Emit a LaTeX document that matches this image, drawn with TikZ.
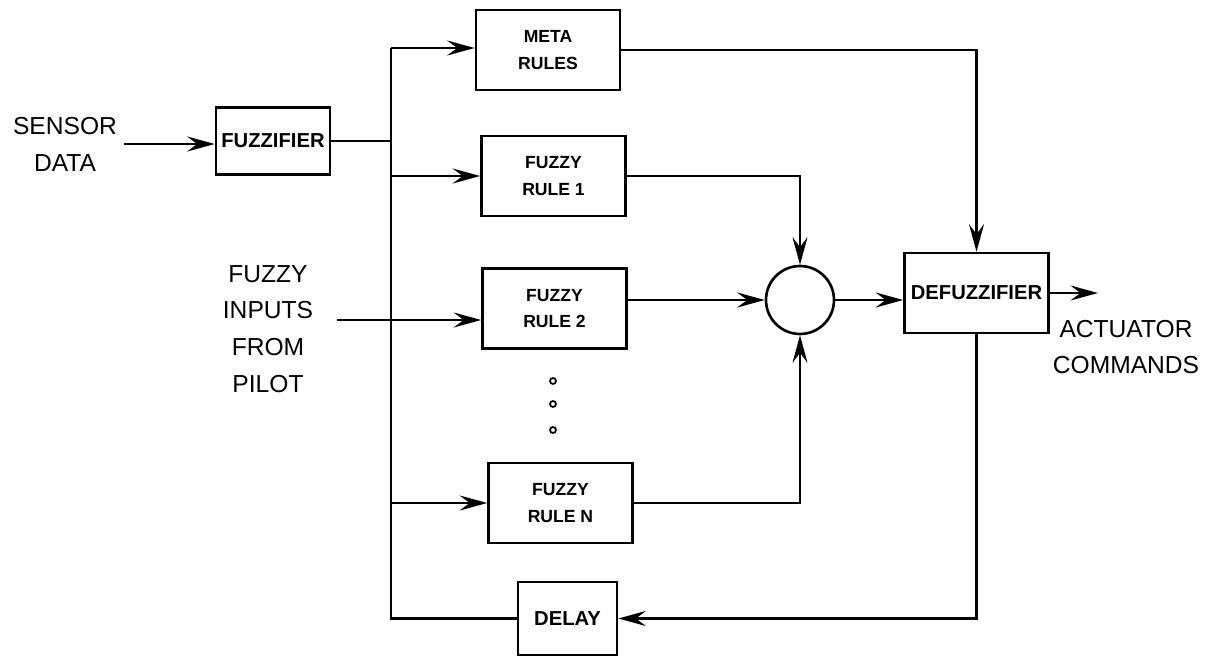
\documentclass[tikz,border=0pt]{standalone}
\usepackage{fontspec}
\setmainfont{Liberation Sans}
\usetikzlibrary{arrows.meta,positioning,calc}

\begin{document}
\begin{tikzpicture}[
  x=0.02cm, y=-0.02cm,
  line width=1.5pt,
  lbl/.style={align=center, font=\fontsize{14}{21}\selectfont},
  block/.style={rectangle, draw, minimum width=2.88cm, minimum height=1.6cm,
                align=center, font=\bfseries\fontsize{10}{15}\selectfont},
  wide/.style={block, inner sep=2pt, font=\bfseries\fontsize{11.5}{14}\selectfont},
  sum/.style={circle, draw, minimum size=1.36cm, inner sep=0pt},
  dot/.style={circle, draw, line width=1pt, minimum size=0.12cm, inner sep=0pt},
  arr/.style={-{Stealth[length=5.5mm, width=3mm, inset=2mm]}}
]
  \useasboundingbox (0,0) rectangle (1208,656);

  % outer labels
  \node[lbl] (sensor) at (65,144) {SENSOR\\DATA};
  \node[lbl] (inputs) at (268,329) {FUZZY\\INPUTS\\FROM\\PILOT};
  \node[lbl] (actuator) at (1126,347) {ACTUATOR\\COMMANDS};

  % blocks
  \node[wide, minimum width=2.28cm, minimum height=1.34cm] (fuzz) at (273,141) {FUZZIFIER};
  \node[block] (meta) at (548,50) {META\\RULES};
  \node[block] (rule1) at (553.5,176) {FUZZY\\RULE 1};
  \node[block] (rule2) at (554.5,308.5) {FUZZY\\RULE 2};
  \node[block] (ruleN) at (560.5,503) {FUZZY\\RULE N};
  \node[wide, minimum width=1.98cm, minimum height=1.46cm] (delay) at (567.5,618.5) {DELAY};
  \node[sum] (comb) at (800,300) {};
  \node[wide] (defuzz) at (976.5,293) {DEFUZZIFIER};
  \foreach \y/\n in {381/a,404/b,430/c}
    \node[dot] (dot\n) at (553,\y) {};

  \coordinate (bustop) at (391,48);
  \coordinate (busbot) at (391,618.5);
  \coordinate (inp) at (337,320);
  \coordinate (out) at (1098,293);

  % connectors
  \draw[arr] (sensor.east) -- (sensor.east -| fuzz.west);
  \draw (fuzz.east) -- (fuzz.east -| bustop);
  \draw (bustop) -- (busbot) -- (delay.west);
  \draw[arr] (bustop) -- (bustop -| meta.west);
  \draw[arr] (bustop |- rule1.west) -- (rule1.west);
  \draw[arr] (bustop |- ruleN.west) -- (ruleN.west);
  \draw[arr] (inp) -- (inp -| rule2.west);
  \draw[arr] (meta.east) -| (defuzz.north);
  \draw[arr] (rule1.east) -| (comb.north);
  \draw[arr] (rule2.east |- comb.west) -- (comb.west);
  \draw[arr] (ruleN.east) -| (comb.south);
  \draw[arr] (comb.east) -- (comb.east -| defuzz.west);
  \draw[arr] (defuzz.east) -- (out);
  \draw[arr] (defuzz.south) |- (delay.east);
\end{tikzpicture}
\end{document}
